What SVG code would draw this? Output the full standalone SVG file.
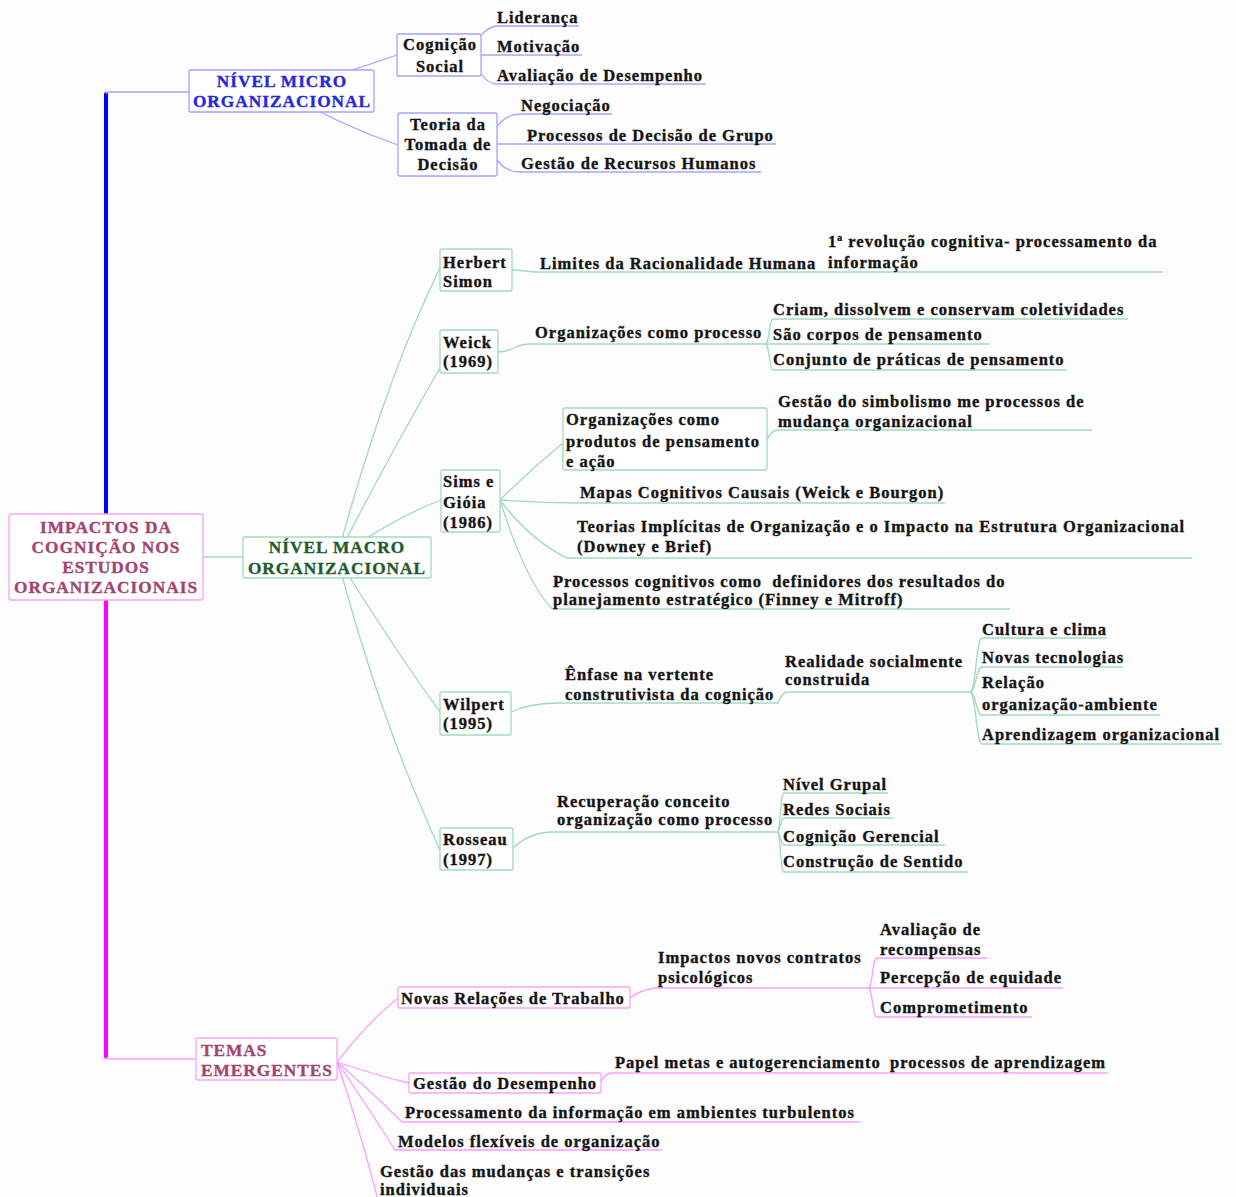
<svg xmlns="http://www.w3.org/2000/svg" width="1236" height="1197" viewBox="0 0 1236 1197">
<style>
  text { font-family: "Liberation Serif", "Times New Roman", serif; font-weight: bold; stroke-width: 0.35px; }
  .t { font-size: 16.5px; letter-spacing: 1px; fill: #141414; stroke: #141414; }
  .h { font-size: 17.3px; letter-spacing: 1px; }
  .mid { text-anchor: middle; }
  .pre { white-space: pre; }
  .root, .temas { fill: #a4446f; stroke: #a4446f; }
  .micro { fill: #2626dc; stroke: #2626dc; }
  .macro { fill: #1f5c2c; stroke: #1f5c2c; }
  .cb, .cg, .cp { fill: none; stroke-width: 1.3; }
  .cb { stroke: #a4a4ff; }
  .cg { stroke: #a2d9c0; }
  .cp { stroke: #ff9cff; }
  .bb, .bg, .bp { fill: #ffffff; stroke-width: 1.3; }
  .bb { stroke: #a4a4ff; }
  .bg { stroke: #a2d9c0; }
  .bp { stroke: #f8a4f8; }
</style>
<rect x="0" y="0" width="1236" height="1197" fill="#fdfdfd"/>

<!-- connectors -->
<g id="connectors">
  <!-- trunk -->
  <path d="M106,514 V94" stroke="#0000ff" stroke-width="4" stroke-linecap="round" fill="none"/>
  <path d="M106,600 V1057" stroke="#ff00ff" stroke-width="4" stroke-linecap="round" fill="none"/>
  <path class="cb" d="M106,94 Q106,92 110,92 H189"/>
  <path class="cp" d="M106,1057 Q106,1059 110,1059 H196"/>
  <path class="cg" d="M203,557 H243"/>

  <!-- micro branch -->
  <path class="cb" d="M281,91 Q340,75 397,55"/>
  <path class="cb" d="M281,91 Q340,125 398,145"/>
  <path class="cb" d="M481,36 Q487,27 497,26"/>
  <path class="cb" d="M481,74 Q487,83 497,84"/>
  <path class="cb" d="M497,127 Q506,114 521,114"/>
  <path class="cb" d="M497,160 Q506,172 520,172"/>

  <!-- macro branch -->
  <path class="cg" d="M337,557 Q385,380 440,268"/>
  <path class="cg" d="M337,557 Q395,445 440,368"/>
  <path class="cg" d="M337,557 Q400,515 441,500"/>
  <path class="cg" d="M337,557 Q395,650 440,712"/>
  <path class="cg" d="M337,557 Q380,720 440,850"/>
  <path class="cg" d="M512,270 C525,270 525,272 538,272"/>
  <path class="cg" d="M498,352 C514,352 514,344 530,344"/>
  <path class="cg" d="M765,344 C770,344 769,319 773,319"/>
  <path class="cg" d="M765,344 C770,344 769,370 773,370"/>
  <path class="cg" d="M500,500 Q530,470 563,443"/>
  <path class="cg" d="M500,500 Q540,503 580,503"/>
  <path class="cg" d="M500,500 Q530,540 567,558"/>
  <path class="cg" d="M500,500 Q525,580 552,609"/>
  <path class="cg" d="M767,440 Q771,431 777,430"/>
  <path class="cg" d="M511,712 Q530,703 560,703"/>
  <path class="cg" d="M778,703 Q782,693 787,692"/>
  <path class="cg" d="M970,692 C976,692 976,638 982,638"/>
  <path class="cg" d="M970,692 C976,692 976,667 982,667"/>
  <path class="cg" d="M970,692 C976,692 976,715 982,715"/>
  <path class="cg" d="M970,692 C976,692 976,744 982,744"/>
  <path class="cg" d="M513,848 Q530,832 553,832"/>
  <path class="cg" d="M777,832 C781,832 780,793 784,793"/>
  <path class="cg" d="M777,832 C781,832 780,818 784,818"/>
  <path class="cg" d="M777,832 C781,832 780,845 784,845"/>
  <path class="cg" d="M777,832 C781,832 780,872 784,872"/>

  <!-- emerging themes branch -->
  <path class="cp" d="M337,1062 Q370,1020 398,998"/>
  <path class="cp" d="M337,1062 Q375,1075 409,1083"/>
  <path class="cp" d="M337,1062 Q375,1095 402,1122"/>
  <path class="cp" d="M337,1062 Q370,1110 395,1150"/>
  <path class="cp" d="M337,1062 Q360,1130 378,1200"/>
  <path class="cp" d="M630,998 Q640,990 655,988"/>
  <path class="cp" d="M868,988 C873,988 872,958 877,958"/>
  <path class="cp" d="M868,988 C873,988 872,1017 877,1017"/>
  <path class="cp" d="M601,1082 Q605,1073 612,1073"/>
</g>

<!-- root -->
<g id="root">
  <rect class="bp" x="9" y="514" width="194" height="86" rx="2"/>
  <text class="h root mid" x="106" y="533">IMPACTOS DA</text>
  <text class="h root mid" x="106" y="553">COGNIÇÃO NOS</text>
  <text class="h root mid" x="106" y="573">ESTUDOS</text>
  <text class="h root mid" x="106" y="593">ORGANIZACIONAIS</text>
</g>

<!-- micro level -->
<g id="nivel-micro">
  <rect class="bb" x="189" y="70" width="185" height="42" rx="2"/>
  <text class="h micro mid" x="282" y="87">NÍVEL MICRO</text>
  <text class="h micro mid" x="282" y="107">ORGANIZACIONAL</text>
</g>
<g id="cognicao-social">
  <rect class="bb" x="397" y="34" width="84" height="42" rx="2"/>
  <text class="t mid" x="440" y="50">Cognição</text>
  <text class="t mid" x="440" y="72">Social</text>
</g>
<g id="lideranca">
  <line class="cb" x1="497" y1="26" x2="579" y2="26"/>
  <text class="t" x="497" y="23">Liderança</text>
</g>
<g id="motivacao">
  <line class="cb" x1="481" y1="55" x2="582" y2="55"/>
  <text class="t" x="497" y="52">Motivação</text>
</g>
<g id="avaliacao-desempenho">
  <line class="cb" x1="497" y1="84" x2="706" y2="84"/>
  <text class="t" x="497" y="81">Avaliação de Desempenho</text>
</g>
<g id="teoria-decisao">
  <rect class="bb" x="398" y="113" width="99" height="63" rx="2"/>
  <text class="t mid" x="448" y="130">Teoria da</text>
  <text class="t mid" x="448" y="150">Tomada de</text>
  <text class="t mid" x="448" y="170">Decisão</text>
</g>
<g id="negociacao">
  <line class="cb" x1="521" y1="114" x2="612" y2="114"/>
  <text class="t" x="521" y="111">Negociação</text>
</g>
<g id="decisao-grupo">
  <line class="cb" x1="497" y1="144" x2="776" y2="144"/>
  <text class="t" x="527" y="141">Processos de Decisão de Grupo</text>
</g>
<g id="recursos-humanos">
  <line class="cb" x1="520" y1="172" x2="761" y2="172"/>
  <text class="t" x="521" y="169">Gestão de Recursos Humanos</text>
</g>

<!-- macro level -->
<g id="nivel-macro">
  <rect class="bg" x="243" y="537" width="188" height="41" rx="2"/>
  <text class="h macro mid" x="337" y="553">NÍVEL MACRO</text>
  <text class="h macro mid" x="337" y="574">ORGANIZACIONAL</text>
</g>
<g id="herbert-simon">
  <rect class="bg" x="440" y="249" width="72" height="42" rx="2"/>
  <text class="t" x="443" y="268">Herbert</text>
  <text class="t" x="443" y="287">Simon</text>
</g>
<g id="limites-racionalidade">
  <line class="cg" x1="538" y1="272" x2="820" y2="272"/>
  <text class="t" x="540" y="269">Limites da Racionalidade Humana</text>
</g>
<g id="revolucao-cognitiva">
  <line class="cg" x1="820" y1="272" x2="1163" y2="272"/>
  <text class="t" x="828" y="247">1ª revolução cognitiva- processamento da</text>
  <text class="t" x="828" y="268">informação</text>
</g>
<g id="weick">
  <rect class="bg" x="440" y="330" width="58" height="43" rx="2"/>
  <text class="t" x="443" y="348">Weick</text>
  <text class="t" x="443" y="367">(1969)</text>
</g>
<g id="org-processo">
  <line class="cg" x1="530" y1="344" x2="765" y2="344"/>
  <text class="t" x="535" y="338">Organizações como processo</text>
</g>
<g id="criam">
  <line class="cg" x1="773" y1="319" x2="1128" y2="319"/>
  <text class="t" x="773" y="315">Criam, dissolvem e conservam coletividades</text>
</g>
<g id="corpos-pensamento">
  <line class="cg" x1="765" y1="344" x2="990" y2="344"/>
  <text class="t" x="773" y="340">São corpos de pensamento</text>
</g>
<g id="praticas-pensamento">
  <line class="cg" x1="773" y1="370" x2="1067" y2="370"/>
  <text class="t" x="773" y="365">Conjunto de práticas de pensamento</text>
</g>
<g id="sims-gioia">
  <rect class="bg" x="441" y="470" width="59" height="62" rx="2"/>
  <text class="t" x="443" y="487">Sims e</text>
  <text class="t" x="443" y="508">Gióia</text>
  <text class="t" x="443" y="528">(1986)</text>
</g>
<g id="org-produtos">
  <rect class="bg" x="563" y="408" width="204" height="62" rx="2"/>
  <text class="t" x="566" y="425">Organizações como</text>
  <text class="t" x="566" y="447">produtos de pensamento</text>
  <text class="t" x="566" y="467">e ação</text>
</g>
<g id="simbolismo">
  <line class="cg" x1="777" y1="430" x2="1092" y2="430"/>
  <text class="t" x="778" y="407">Gestão do simbolismo me processos de</text>
  <text class="t" x="778" y="427">mudança organizacional</text>
</g>
<g id="mapas-cognitivos">
  <line class="cg" x1="580" y1="503" x2="945" y2="503"/>
  <text class="t" x="580" y="498">Mapas Cognitivos Causais (Weick e Bourgon)</text>
</g>
<g id="teorias-implicitas">
  <line class="cg" x1="567" y1="558" x2="1192" y2="558"/>
  <text class="t" x="577" y="532">Teorias Implícitas de Organização e o Impacto na Estrutura Organizacional</text>
  <text class="t" x="577" y="552">(Downey e Brief)</text>
</g>
<g id="processos-cognitivos">
  <line class="cg" x1="552" y1="609" x2="1010" y2="609"/>
  <text class="t pre" x="553" y="587">Processos cognitivos como  definidores dos resultados do</text>
  <text class="t" x="553" y="605">planejamento estratégico (Finney e Mitroff)</text>
</g>
<g id="wilpert">
  <rect class="bg" x="440" y="692" width="71" height="43" rx="2"/>
  <text class="t" x="443" y="710">Wilpert</text>
  <text class="t" x="443" y="729">(1995)</text>
</g>
<g id="enfase-construtivista">
  <line class="cg" x1="560" y1="703" x2="778" y2="703"/>
  <text class="t" x="565" y="680">Ênfase na vertente</text>
  <text class="t" x="565" y="700">construtivista da cognição</text>
</g>
<g id="realidade-social">
  <line class="cg" x1="787" y1="692" x2="970" y2="692"/>
  <text class="t" x="785" y="667">Realidade socialmente</text>
  <text class="t" x="785" y="685">construida</text>
</g>
<g id="cultura-clima">
  <line class="cg" x1="982" y1="638" x2="1107" y2="638"/>
  <text class="t" x="982" y="635">Cultura e clima</text>
</g>
<g id="novas-tecnologias">
  <line class="cg" x1="982" y1="667" x2="1123" y2="667"/>
  <text class="t" x="982" y="663">Novas tecnologias</text>
</g>
<g id="relacao-ambiente">
  <line class="cg" x1="982" y1="715" x2="1160" y2="715"/>
  <text class="t" x="982" y="688">Relação</text>
  <text class="t" x="982" y="710">organização-ambiente</text>
</g>
<g id="aprendizagem-org">
  <line class="cg" x1="982" y1="744" x2="1222" y2="744"/>
  <text class="t" x="982" y="740">Aprendizagem organizacional</text>
</g>
<g id="rosseau">
  <rect class="bg" x="440" y="828" width="73" height="42" rx="2"/>
  <text class="t" x="443" y="845">Rosseau</text>
  <text class="t" x="443" y="865">(1997)</text>
</g>
<g id="recuperacao-conceito">
  <line class="cg" x1="553" y1="832" x2="777" y2="832"/>
  <text class="t" x="557" y="807">Recuperação conceito</text>
  <text class="t" x="557" y="825">organização como processo</text>
</g>
<g id="nivel-grupal">
  <line class="cg" x1="784" y1="793" x2="888" y2="793"/>
  <text class="t" x="783" y="790">Nível Grupal</text>
</g>
<g id="redes-sociais">
  <line class="cg" x1="784" y1="818" x2="893" y2="818"/>
  <text class="t" x="783" y="815">Redes Sociais</text>
</g>
<g id="cognicao-gerencial">
  <line class="cg" x1="784" y1="845" x2="945" y2="845"/>
  <text class="t" x="783" y="842">Cognição Gerencial</text>
</g>
<g id="construcao-sentido">
  <line class="cg" x1="784" y1="872" x2="968" y2="872"/>
  <text class="t" x="783" y="867">Construção de Sentido</text>
</g>

<!-- emerging themes -->
<g id="temas-emergentes">
  <rect class="bp" x="196" y="1038" width="141" height="42" rx="2"/>
  <text class="h temas" x="201" y="1056">TEMAS</text>
  <text class="h temas" x="201" y="1076">EMERGENTES</text>
</g>
<g id="novas-relacoes">
  <rect class="bp" x="398" y="987" width="232" height="21" rx="2"/>
  <text class="t" x="401" y="1004">Novas Relações de Trabalho</text>
</g>
<g id="contratos-psicologicos">
  <line class="cp" x1="655" y1="988" x2="868" y2="988"/>
  <text class="t" x="658" y="963">Impactos novos contratos</text>
  <text class="t" x="658" y="983">psicológicos</text>
</g>
<g id="avaliacao-recompensas">
  <line class="cp" x1="877" y1="958" x2="987" y2="958"/>
  <text class="t" x="880" y="935">Avaliação de</text>
  <text class="t" x="880" y="955">recompensas</text>
</g>
<g id="percepcao-equidade">
  <line class="cp" x1="868" y1="988" x2="1063" y2="988"/>
  <text class="t" x="880" y="983">Percepção de equidade</text>
</g>
<g id="comprometimento">
  <line class="cp" x1="877" y1="1017" x2="1032" y2="1017"/>
  <text class="t" x="880" y="1013">Comprometimento</text>
</g>
<g id="gestao-desempenho">
  <rect class="bp" x="409" y="1073" width="192" height="20" rx="2"/>
  <text class="t" x="413" y="1089">Gestão do Desempenho</text>
</g>
<g id="papel-metas">
  <line class="cp" x1="612" y1="1073" x2="883" y2="1073"/>
  <text class="t" x="615" y="1068">Papel metas e autogerenciamento</text>
</g>
<g id="processos-aprendizagem">
  <line class="cp" x1="883" y1="1073" x2="1108" y2="1073"/>
  <text class="t" x="890" y="1068">processos de aprendizagem</text>
</g>
<g id="processamento-informacao">
  <line class="cp" x1="402" y1="1122" x2="860" y2="1122"/>
  <text class="t" x="405" y="1118">Processamento da informação em ambientes turbulentos</text>
</g>
<g id="modelos-flexiveis">
  <line class="cp" x1="395" y1="1150" x2="662" y2="1150"/>
  <text class="t" x="398" y="1147">Modelos flexíveis de organização</text>
</g>
<g id="gestao-mudancas">
  <text class="t" x="380" y="1177">Gestão das mudanças e transições</text>
  <text class="t" x="380" y="1195">individuais</text>
</g>
</svg>
